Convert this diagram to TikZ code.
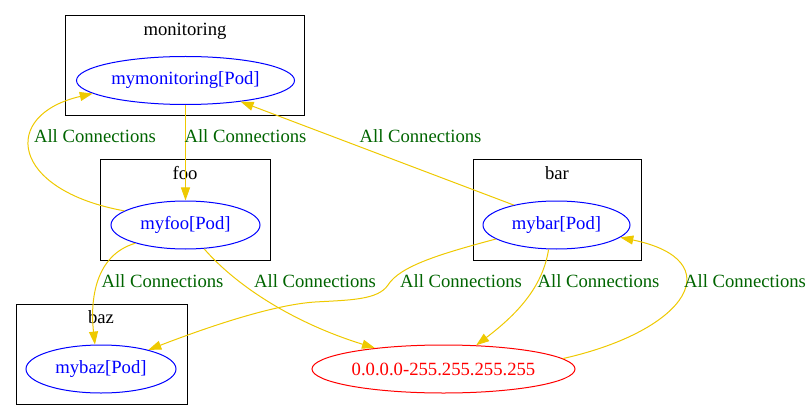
\documentclass[tikz,border=0pt]{standalone}
\usepackage{fontspec}
\setmainfont{Liberation Serif}
\usetikzlibrary{arrows.meta,shapes.geometric}
\definecolor{edgegold}{HTML}{EEC900}
\definecolor{lblgreen}{HTML}{006400}
\begin{document}
\begin{tikzpicture}[x=0.75pt,y=-0.75pt,
  font=\fontsize{14}{16}\selectfont,
  cluster/.style={draw=black,line width=0.75pt},
  clabel/.style={anchor=base,inner sep=0pt,text=black},
  pod/.style={ellipse,draw=blue,text=blue,line width=0.75pt,inner sep=0pt,minimum height=36pt},
  ipnode/.style={ellipse,draw=red,text=red,line width=0.75pt,inner sep=0pt,minimum height=36pt},
  conn/.style={draw=edgegold,color=edgegold,line width=0.75pt,-{Triangle[length=9.75pt,width=6.75pt]}},
  elabel/.style={anchor=base,inner sep=0pt,text=lblgreen}]
\useasboundingbox (0,0) rectangle (812,420);
% clusters
\draw[cluster] (65,16) rectangle (304,116);
\draw[cluster] (100,160) rectangle (270,260);
\draw[cluster] (16,304) rectangle (187,404);
\draw[cluster] (473,160) rectangle (641,260);
\node[clabel] (lmon) at (185,36) {monitoring};
\node[clabel] (lfoo) at (185,180) {foo};
\node[clabel] (lbaz) at (101,323) {baz};
\node[clabel] (lbar) at (557,180) {bar};
% nodes
\node[pod,minimum width=163.5pt] (mymon) at (185.5,80.5) {mymonitoring[Pod]};
\node[pod,minimum width=111.75pt] (myfoo) at (185.5,225) {myfoo[Pod]};
\node[pod,minimum width=112.5pt] (mybaz) at (101,369) {mybaz[Pod]};
\node[pod,minimum width=110.25pt] (mybar) at (556.5,225) {mybar[Pod]};
\node[ipnode,minimum width=197.25pt] (ip) at (443.5,369) {0.0.0.0-255.255.255.255};
% edges
\draw[conn] (myfoo.167) .. controls (10,190) and (0,115) .. (mymon.188);
\draw[conn] (mymon.south) -- (myfoo.north);
\draw[conn] (mybar.155) -- (mymon.339);
\draw[conn] (myfoo.200) .. controls (95,255) and (90,300) .. (mybaz.104);
\draw[conn] (myfoo.308) .. controls (240,290) and (300,325) .. (ip.163);
\draw[conn] (mybar.193) .. controls (440,254) and (400,266) .. (388,285)
  .. controls (378,300) and (350,300) .. (315,302)
  .. controls (270,305) and (200,330) .. (mybaz.22);
\draw[conn] (mybar.252) .. controls (543,285) and (520,312) .. (ip.36);
\draw[conn] (ip.5) .. controls (690,330) and (730,260) .. (mybar.349);
% edge labels
\node[elabel] (e1) at (95,143) {All Connections};
\node[elabel] (e2) at (245.5,143) {All Connections};
\node[elabel] (e3) at (420.5,143) {All Connections};
\node[elabel] (e4) at (162.5,287) {All Connections};
\node[elabel] (e5) at (315,287) {All Connections};
\node[elabel] (e6) at (461,287) {All Connections};
\node[elabel] (e7) at (598.5,287) {All Connections};
\node[elabel] (e8) at (745,287) {All Connections};
\end{tikzpicture}
\end{document}
